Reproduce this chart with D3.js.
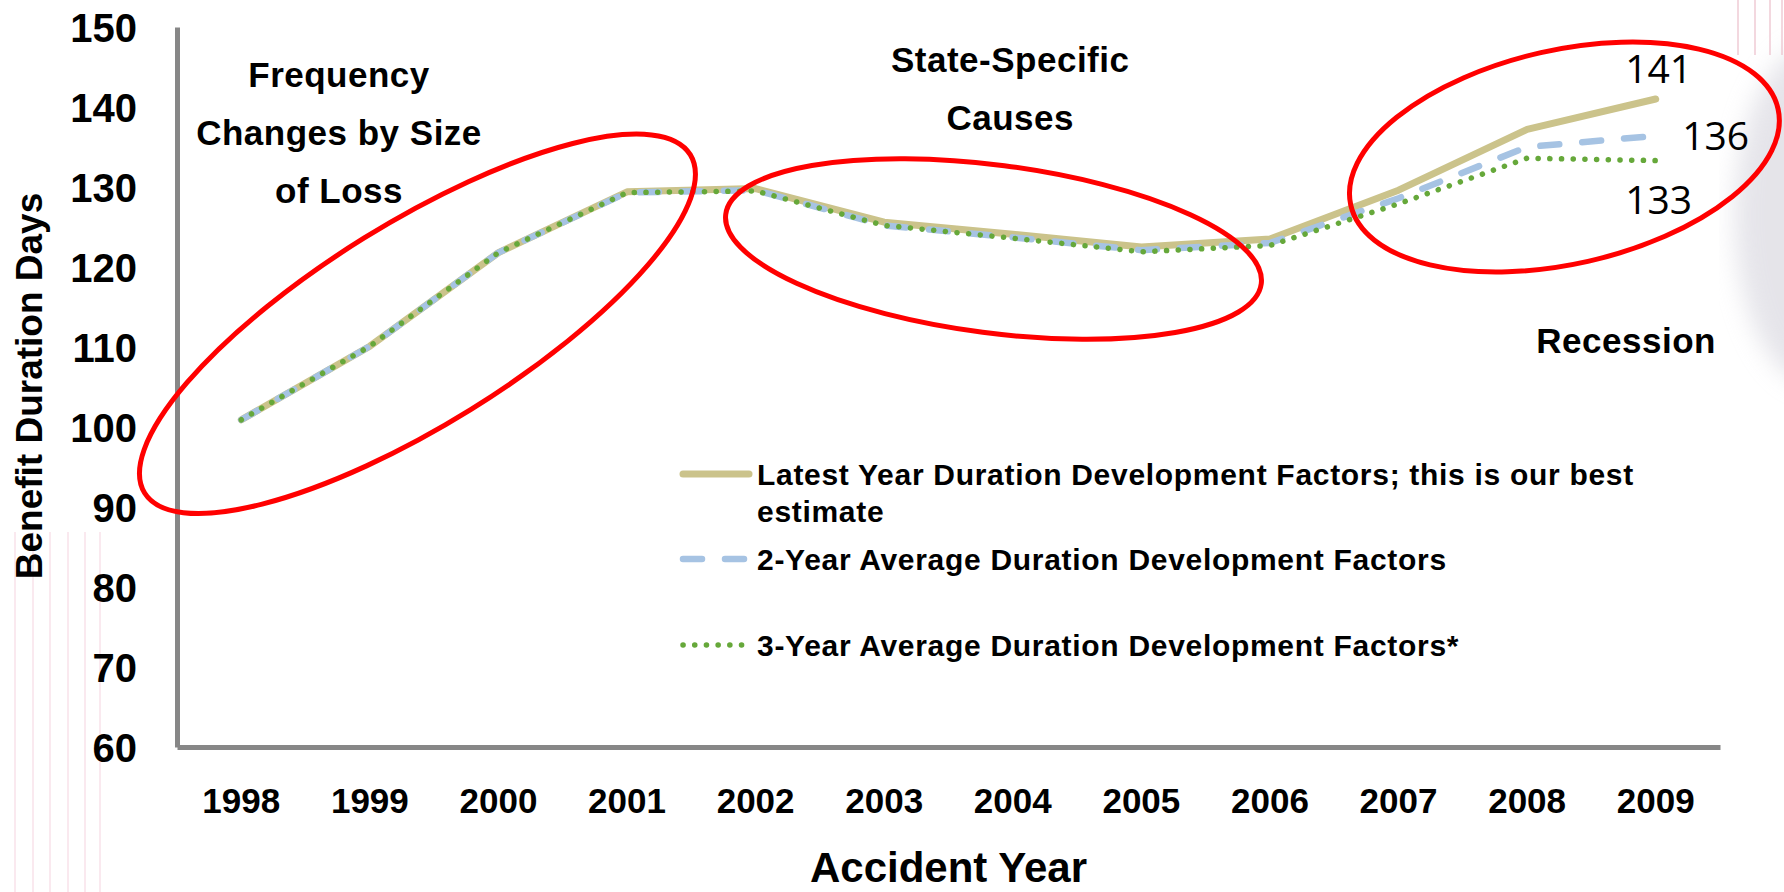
<!DOCTYPE html>
<html>
<head>
<meta charset="utf-8">
<script src="https://cdn.jsdelivr.net/npm/d3@7"></script>
<style>
    html, body { margin: 0; padding: 0; background: #fff; overflow: hidden; }
    svg text { font-family: "Liberation Sans", Arial, sans-serif; font-weight: bold; fill: #000; }
    .endlbl { font-family: "Open Sans", "Noto Sans", sans-serif; font-weight: normal; }
</style>
</head>
<body>
<div id="chart"></div>
<script>
var years = [1998, 1999, 2000, 2001, 2002, 2003, 2004, 2005, 2006, 2007, 2008, 2009];
var latestYear   = [100.9, 110.1, 121.8, 129.4, 129.8, 125.6, 124.1, 122.5, 123.5, 129.6, 137.2, 141.0];
var twoYearAvg   = [100.9, 110.1, 121.8, 129.3, 129.6, 125.2, 123.7, 122.1, 123.0, 128.6, 135.0, 136.4];
var threeYearAvg = [100.9, 110.1, 121.8, 129.3, 129.5, 125.2, 123.6, 121.9, 122.7, 127.9, 133.6, 133.3];
var yTicks = [60, 70, 80, 90, 100, 110, 120, 130, 140, 150];
var seriesNames = [
    ["Latest Year Duration Development Factors; this is our best", "estimate"],
    ["2-Year Average Duration Development Factors"],
    ["3-Year Average Duration Development Factors*"]
];
// circled regions: centre as (year, days), radii in px, rotation in degrees
var circles = [
    {year: 1999.37, days: 112.9, rx: 321, ry: 101, rot: -31.8},
    {year: 2003.85, days: 122.25, rx: 270, ry: 84, rot: 7.4},
    {year: 2008.29, days: 133.75, rx: 219, ry: 107, rot: -12.7}
];
var notes = [
    {year: 1998.76, days: 142.5, lines: ["Frequency", "Changes by Size", "of Loss"]},
    {year: 2003.98, days: 144.4, lines: ["State-Specific", "Causes"]},
    {year: 2008.77, days: 109.25, lines: ["Recession"]}
];

var W = 1784, H = 892;
var margin = {top: 27, right: 64, bottom: 145, left: 177};

var svg = d3.select("#chart")
    .append("svg")
    .attr("width", W)
    .attr("height", H);

// faint slide-template decoration
var defs = svg.append("defs");
defs.append("filter").attr("id", "blur")
    .append("feGaussianBlur").attr("stdDeviation", 12);
var deco = svg.append("g").attr("class", "deco");
deco.append("ellipse")
    .attr("cx", 1815).attr("cy", 215).attr("rx", 80).attr("ry", 170)
    .attr("fill", "#d4d3dc").attr("opacity", 0.6)
    .attr("filter", "url(#blur)");
[15, 33, 50, 68, 85, 100].forEach(function(px) {
    deco.append("line")
        .attr("x1", px).attr("x2", px).attr("y1", 532).attr("y2", 892)
        .attr("stroke", "#f2c6d4").attr("stroke-width", 1.5).attr("opacity", 0.5);
});
[1738, 1755, 1770, 1782].forEach(function(px) {
    deco.append("line")
        .attr("x1", px).attr("x2", px).attr("y1", 0).attr("y2", 55)
        .attr("stroke", "#e8b5c2").attr("stroke-width", 1.5).attr("opacity", 0.7);
});

var x = d3.scaleBand()
    .domain(years)
    .range([margin.left, W - margin.right]);
var bw = x.bandwidth();
var xAt = function(yr) { return margin.left + (yr - years[0] + 0.5) * bw; };

var y = d3.scaleLinear()
    .domain([60, 150])
    .range([H - margin.bottom, margin.top]);

// axes
var yAxis = svg.append("g")
    .attr("transform", "translate(" + margin.left + ",0)")
    .call(d3.axisLeft(y).tickValues(yTicks).tickSize(0).tickPadding(40));
var xAxis = svg.append("g")
    .attr("transform", "translate(0," + (H - margin.bottom) + ")")
    .call(d3.axisBottom(x).tickSize(0).tickPadding(0));

[yAxis, xAxis].forEach(function(a) {
    a.select(".domain").attr("stroke", "#878787").attr("stroke-width", 5);
});
yAxis.selectAll("text")
    .style("font-size", "40px")
    .attr("dy", "0.36em");
xAxis.selectAll("text")
    .style("font-size", "35px")
    .attr("y", 54)
    .attr("dy", "0.35em");

svg.append("text")
    .attr("transform", "translate(42,386) rotate(-90)")
    .attr("text-anchor", "middle")
    .style("font-size", "37px")
    .text("Benefit Duration Days");

svg.append("text")
    .attr("x", (margin.left + W - margin.right) / 2)
    .attr("y", 882)
    .attr("text-anchor", "middle")
    .style("font-size", "42px")
    .text("Accident Year");

// series
var series = [
    {vals: latestYear,   color: "#cbc38b", width: 7,   dash: null,       cap: "round"},
    {vals: twoYearAvg,   color: "#a6c3e3", width: 6.5, dash: "19,23",    cap: "round"},
    {vals: threeYearAvg, color: "#66a83a", width: 5.5, dash: "0.1,11.6", cap: "round"}
];

var line = d3.line()
    .x(function(d, i) { return x(years[i]) + bw / 2; })
    .y(function(d) { return y(d); });

svg.append("g").selectAll("path")
    .data(series)
    .join("path")
    .attr("d", function(s) { return line(s.vals); })
    .attr("fill", "none")
    .attr("stroke", function(s) { return s.color; })
    .attr("stroke-width", function(s) { return s.width; })
    .attr("stroke-dasharray", function(s) { return s.dash; })
    .attr("stroke-linecap", function(s) { return s.cap; })
    .attr("stroke-linejoin", "round");

// end labels
var last = years.length - 1;
var fmt = d3.format(".0f");
var endOffsets = [[3, -16], [60, 14], [3, 53]];
svg.append("g").selectAll("text")
    .data(series)
    .join("text")
    .attr("class", "endlbl")
    .attr("x", function(s, i) { return x(years[last]) + bw / 2 + endOffsets[i][0]; })
    .attr("y", function(s, i) { return y(s.vals[last]) + endOffsets[i][1]; })
    .attr("text-anchor", "middle")
    .style("font-size", "39px")
    .text(function(s) { return fmt(s.vals[last]); });

// red circles
svg.append("g").selectAll("ellipse")
    .data(circles)
    .join("ellipse")
    .attr("rx", function(c) { return c.rx; })
    .attr("ry", function(c) { return c.ry; })
    .attr("transform", function(c) {
        return "translate(" + xAt(c.year) + "," + y(c.days) + ") rotate(" + c.rot + ")";
    })
    .attr("fill", "none")
    .attr("stroke", "#ff0000")
    .attr("stroke-width", 5);

// notes
notes.forEach(function(n) {
    var t = svg.append("text")
        .attr("text-anchor", "middle")
        .style("font-size", "35px")
        .style("letter-spacing", "0.5px");
    n.lines.forEach(function(l, i) {
        t.append("tspan")
            .attr("x", xAt(n.year))
            .attr("y", y(n.days) + i * 58)
            .text(l);
    });
});

// legend
var legend = svg.append("g").attr("transform", "translate(680,474)");
var rowY = [0, 85, 171];
series.forEach(function(s, i) {
    var g = legend.append("g").attr("transform", "translate(0," + rowY[i] + ")");
    g.append("line")
        .attr("x1", 3).attr("x2", 69)
        .attr("stroke", s.color)
        .attr("stroke-width", s.width)
        .attr("stroke-dasharray", s.dash)
        .attr("stroke-linecap", s.cap);
    var t = g.append("text")
        .style("font-size", "30px")
        .style("letter-spacing", "0.7px");
    seriesNames[i].forEach(function(l, j) {
        t.append("tspan").attr("x", 77).attr("y", 11 + j * 37).text(l);
    });
});
</script>
</body>
</html>
